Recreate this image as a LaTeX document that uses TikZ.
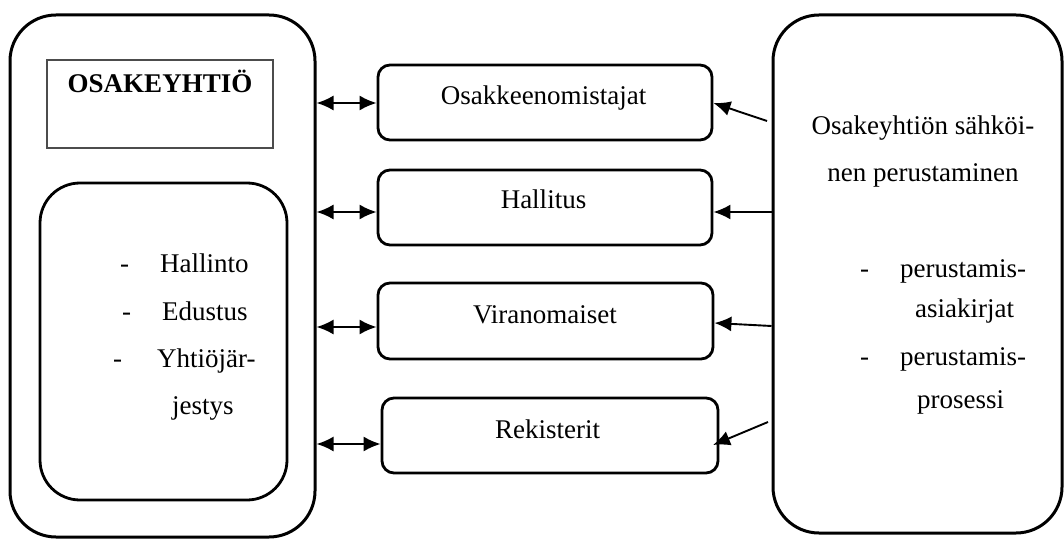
\documentclass[tikz,border=0pt]{standalone}
\usepackage{fontspec}
\setmainfont{Liberation Serif}
\usetikzlibrary{arrows.meta}
\begin{document}
\begin{tikzpicture}[x=1pt,y=-1pt,
  every node/.style={font=\fontsize{27}{32}\selectfont, inner sep=0pt},
  bigbox/.style={draw, line width=3pt, rounded corners=46pt},
  innerbox/.style={draw, line width=2.8pt, rounded corners=40pt},
  midbox/.style={draw, line width=2.8pt, rounded corners=12pt},
  titlebox/.style={draw=black!70, line width=1.1pt},
  txt/.style={anchor=base},
  txtw/.style={anchor=base west},
  dbl/.style={line width=1.9pt, {Latex[length=17pt,width=15pt]}-{Latex[length=17pt,width=15pt]}},
  sgl/.style={line width=1.9pt, -{Latex[length=17pt,width=15pt]}}]
\useasboundingbox (0,0) rectangle (1064,540);
% left outer box
\node[bigbox, minimum width=305pt, minimum height=522pt] (company) at (162.5,276) {};
\node[titlebox, minimum width=226pt, minimum height=88pt] (title) at (160,104) {};
\node[txt, font=\fontsize{27}{32}\selectfont\bfseries] (titletext) at (160,93) {OSAKEYHTIÖ};
\node[innerbox, minimum width=247pt, minimum height=317pt] (inner) at (163.5,341.5) {};
\node[txtw] (d1) at (120,272) {-};
\node[txtw] (l1) at (160,272) {Hallinto};
\node[txtw] (d2) at (122,320) {-};
\node[txtw] (l2) at (162,320) {Edustus};
\node[txtw] (d3) at (113,367) {-};
\node[txtw] (l3) at (157,367) {Yhtiöjär-};
\node[txtw] (l4) at (172,414) {jestys};
% middle boxes
\node[midbox, minimum width=334pt, minimum height=75pt] (osa) at (545,102.5) {};
\node[txt] (osat) at (543.5,105) {Osakkeenomistajat};
\node[midbox, minimum width=334pt, minimum height=75pt] (hal) at (545,207.5) {};
\node[txt] (halt) at (543.5,208) {Hallitus};
\node[midbox, minimum width=335pt, minimum height=76pt] (vir) at (545.5,321) {};
\node[txt] (virt) at (545,323) {Viranomaiset};
\node[midbox, minimum width=336pt, minimum height=75pt] (rek) at (550,435.5) {};
\node[txt] (rekt) at (547.5,438) {Rekisterit};
% right box
\node[bigbox, minimum width=289pt, minimum height=518pt] (found) at (917.5,274) {};
\node[txt] (r1) at (923,135) {Osakeyhtiön sähköi-};
\node[txt] (r2) at (923,181) {nen perustaminen};
\node[txtw] (rd1) at (860,277) {-};
\node[txtw] (r3) at (900,277) {perustamis-};
\node[txtw] (r4) at (915,317) {asiakirjat};
\node[txtw] (rd2) at (860,365) {-};
\node[txtw] (r5) at (900,365) {perustamis-};
\node[txtw] (r6) at (917,408) {prosessi};
% left arrows
\draw[dbl] (company.east |- 0,103) -- (osa.west |- 0,103);
\draw[dbl] (company.east |- 0,212) -- (hal.west |- 0,212);
\draw[dbl] (company.east |- 0,327) -- (vir.west |- 0,327);
\draw[dbl] (company.east |- 0,444) -- (rek.west |- 0,444);
% right arrows
\coordinate (s1) at (767,121);
\coordinate (s4) at (768,422);
\draw[sgl] (s1) -- (osa.east |- 0,103);
\draw[sgl] (found.west |- 0,212) -- (hal.east |- 0,212);
\draw[sgl] (found.west |- 0,326) -- (vir.east |- 0,323);
\draw[sgl] (s4) -- (713,445);
\end{tikzpicture}
\end{document}
